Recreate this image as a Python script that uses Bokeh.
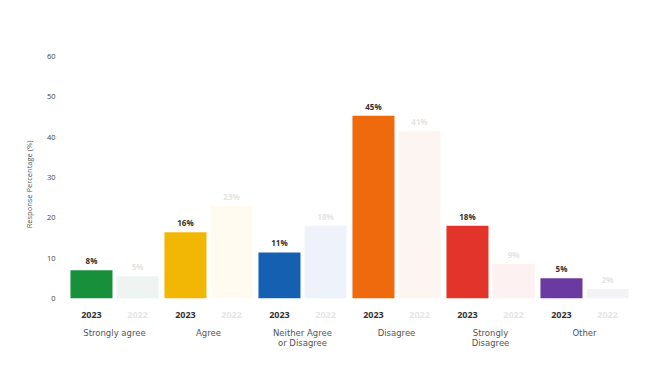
from bokeh.plotting import figure
from bokeh.models import FactorRange, Range1d, FixedTicker, ColumnDataSource
from bokeh.transform import dodge
from bokeh.core.properties import value
from bokeh.embed import file_html
from bokeh.resources import INLINE

categories = ["Strongly agree", "Agree", "Neither Agree\nor Disagree", "Disagree", "Strongly\nDisagree", "Other"]
values_2023 = [7, 16.4, 11.4, 45.3, 18, 5]
labels_2023 = ["8%", "16%", "11%", "45%", "18%", "5%"]
values_2022 = [5.5, 23, 18, 41.5, 8.5, 2.3]
labels_2022 = ["5%", "23%", "18%", "41%", "9%", "2%"]
year_a = ["2023"] * 6
year_b = ["2022"] * 6
colors_2023 = ["#178f3b", "#f2b705", "#1560b0", "#ee6a0c", "#e2342b", "#6a3aa0"]
colors_2022 = ["#eef4f1", "#fffbf0", "#eef2fa", "#fdf5f2", "#fdf1f2", "#f3f3f5"]
y_ticks = [0, 10, 20, 30, 40, 50, 60]

FONT = "Open Sans"
WIDE = "DejaVu Sans"

src = ColumnDataSource(dict(
    cat=categories, v23=values_2023, l23=labels_2023, v22=values_2022, l22=labels_2022,
    c23=colors_2023, c22=colors_2022, ya=year_a, yb=year_b,
    ylab=[-4.2] * 6,
))

p = figure(width=640, height=362, output_backend="svg", toolbar_location=None,
           x_range=FactorRange(factors=categories, range_padding=0),
           y_range=Range1d(-5.5, 62),
           min_border_left=67, min_border_right=9, min_border_top=48, min_border_bottom=42)
p.outline_line_color = None
p.background_fill_color = "white"
p.border_fill_color = "white"
p.xgrid.visible = False
p.ygrid.visible = False

off = 0.245
w = 0.447
p.vbar(x=dodge("cat", -off, range=p.x_range), top="v23", width=w, fill_color="c23",
       line_color=None, source=src)
p.vbar(x=dodge("cat", off, range=p.x_range), top="v22", width=w, fill_color="c22",
       line_color=None, source=src)

p.text(x=dodge("cat", -off, range=p.x_range), y="v23", text="l23", source=src,
       text_align="center", text_baseline="bottom", y_offset=-4,
       text_font=value(FONT), text_font_size="8px", text_font_style="bold", text_color="#333333")
p.text(x=dodge("cat", off, range=p.x_range), y="v22", text="l22", source=src,
       text_align="center", text_baseline="bottom", y_offset=-4,
       text_font=value(FONT), text_font_size="8px", text_font_style="bold", text_color="#e4e4e4")

p.text(x=dodge("cat", -off, range=p.x_range), y="ylab", text="ya", source=src,
       text_align="center", text_baseline="middle",
       text_font=value(FONT), text_font_size="9px", text_font_style="bold", text_color="#333333")
p.text(x=dodge("cat", off, range=p.x_range), y="ylab", text="yb", source=src,
       text_align="center", text_baseline="middle",
       text_font=value(FONT), text_font_size="9px", text_font_style="bold", text_color="#e6e6e6")

p.yaxis.ticker = FixedTicker(ticks=y_ticks)
p.yaxis.axis_line_color = None
p.yaxis.major_tick_line_color = None
p.yaxis.minor_tick_line_color = None
p.yaxis.major_tick_out = 0
p.yaxis.major_label_text_font = FONT
p.yaxis.major_label_text_font_size = "7.5px"
p.yaxis.major_label_text_color = "#444444"
p.yaxis.major_label_standoff = 12
p.yaxis.axis_label = "Response Percentage (%)"
p.yaxis.axis_label_text_font = FONT
p.yaxis.axis_label_text_font_size = "7.5px"
p.yaxis.axis_label_text_font_style = "normal"
p.yaxis.axis_label_text_color = "#555555"
p.yaxis.axis_label_standoff = 10

p.xaxis.axis_line_color = None
p.xaxis.major_tick_line_color = None
p.xaxis.minor_tick_line_color = None
p.xaxis.major_tick_out = 0
p.xaxis.major_label_text_font = WIDE
p.xaxis.major_label_text_font_size = "8.5px"
p.xaxis.major_label_text_color = "#555555"
p.xaxis.major_label_text_line_height = 1.05
p.xaxis.major_label_standoff = 7

open("out.html", "w").write(file_html(p, INLINE))
